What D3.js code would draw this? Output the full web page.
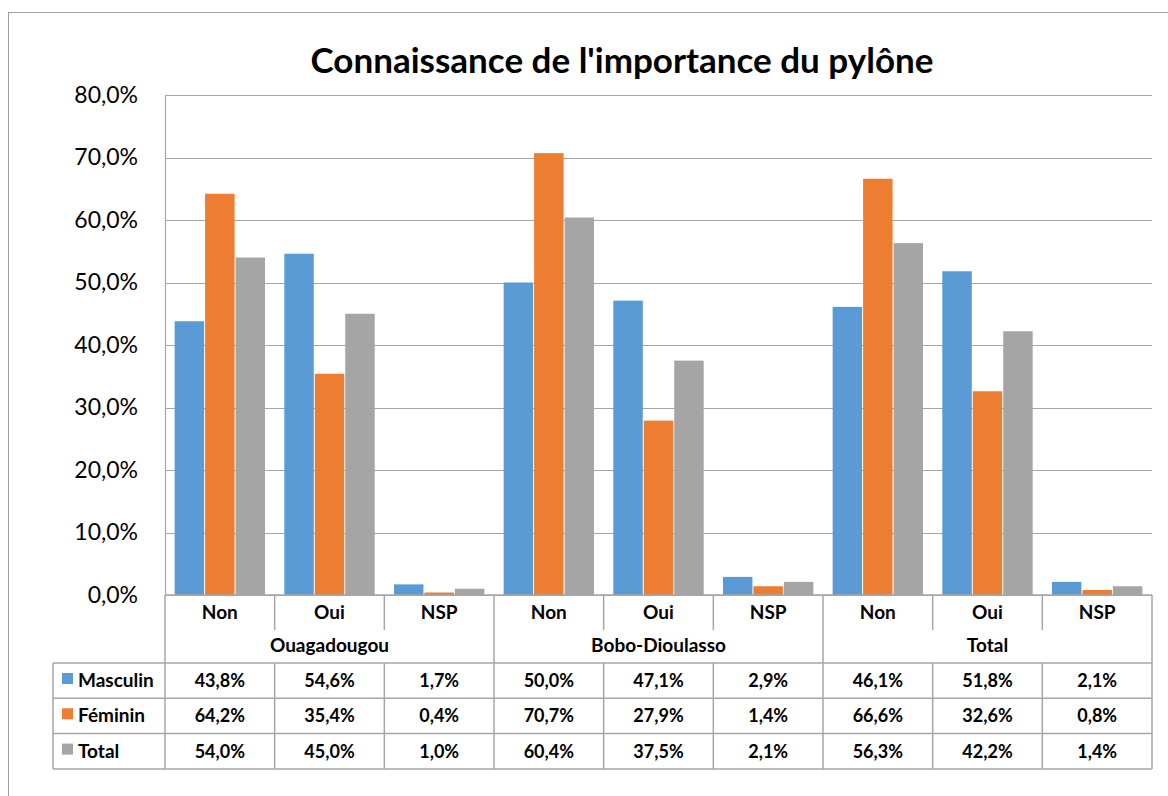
<!DOCTYPE html>
<html>
<head>
<meta charset="utf-8">
<script src="https://cdn.jsdelivr.net/npm/d3@7"></script>
<style>
  body { margin: 0; background: #fff; }
  svg text { font-family: Lato, "Open Sans", sans-serif; fill: #000; }
</style>
</head>
<body>
<svg id="chart" width="1168" height="796"></svg>
<script>
// Data
const groups = ['Ouagadougou', 'Bobo-Dioulasso', 'Total'];
const answers = ['Non', 'Oui', 'NSP'];
const seriesNames = ['Masculin', 'Féminin', 'Total'];
const masculin = [43.8, 54.6, 1.7, 50.0, 47.1, 2.9, 46.1, 51.8, 2.1];
const feminin  = [64.2, 35.4, 0.4, 70.7, 27.9, 1.4, 66.6, 32.6, 0.8];
const total    = [54.0, 45.0, 1.0, 60.4, 37.5, 2.1, 56.3, 42.2, 1.4];
const yTicks = [0, 10, 20, 30, 40, 50, 60, 70, 80];
const colours = ['#5B9BD5', '#ED7D31', '#A5A5A5'];

const seriesValues = [masculin, feminin, total];
const columns = [];
groups.forEach((g, gi) => answers.forEach((a, ai) => columns.push({key: gi + '-' + a, group: g, answer: a, i: gi * answers.length + ai})));

const svg = d3.select('#chart');
const lineCol = '#a6a6a6';

// outer chart frame
svg.append('rect')
  .attr('x', 8.5).attr('y', 12.5)
  .attr('width', 1180).attr('height', 800)
  .attr('fill', 'none').attr('stroke', '#a0a0a0');

// title
svg.append('text')
  .attr('x', 622).attr('y', 73)
  .attr('text-anchor', 'middle')
  .attr('font-size', 35).attr('font-weight', 'bold')
  .text("Connaissance de l'importance du pylône");

const plot = {left: 165, right: 1152, top: 95, bottom: 595};

const x = d3.scaleBand()
  .domain(columns.map(d => d.key))
  .range([plot.left, plot.right]);

const xSub = d3.scaleBand()
  .domain(seriesNames)
  .range([0, x.bandwidth()])
  .paddingInner(0)
  .paddingOuter(0.3);

const y = d3.scaleLinear()
  .domain([0, 80])
  .range([plot.bottom, plot.top]);

const fmt = v => v.toFixed(1).replace('.', ',') + '%';

// gridlines
svg.append('g').selectAll('line').data(yTicks).join('line')
  .attr('x1', plot.left).attr('x2', plot.right)
  .attr('y1', d => Math.round(y(d)) + 0.5).attr('y2', d => Math.round(y(d)) + 0.5)
  .attr('stroke', lineCol).attr('stroke-width', 1.2);

// y axis
const yAxisG = svg.append('g')
  .attr('transform', `translate(${plot.left},0)`)
  .call(d3.axisLeft(y).tickValues(yTicks).tickFormat(fmt).tickSize(0).tickPadding(27));
yAxisG.select('.domain').attr('stroke', lineCol).attr('stroke-width', 1.2);
yAxisG.selectAll('text').attr('font-size', 23).attr('font-family', 'Lato, sans-serif').attr('fill', '#000');

// bars
const colG = svg.append('g').selectAll('g').data(columns).join('g')
  .attr('transform', d => `translate(${x(d.key)},0)`);
colG.selectAll('rect').data(d => seriesNames.map((s, si) => ({s, si, v: seriesValues[si][d.i]}))).join('rect')
  .attr('x', d => xSub(d.s) + 0.5)
  .attr('width', xSub.bandwidth() - 1)
  .attr('y', d => y(d.v))
  .attr('height', d => y(0) - y(d.v))
  .attr('fill', d => colours[d.si]);

// data table
const rowAxis = {top: 595, tickBottom: 630, mid: 646, bottom: 663};
const rowH = 35.3;
const tableLeft = 53;
const tableG = svg.append('g');
const hline = (x1, x2, yy) => tableG.append('line')
  .attr('x1', x1).attr('x2', x2).attr('y1', yy).attr('y2', yy)
  .attr('stroke', lineCol).attr('stroke-width', 1.5);
const vline = (xx, y1, y2) => tableG.append('line')
  .attr('x1', xx).attr('x2', xx).attr('y1', y1).attr('y2', y2)
  .attr('stroke', lineCol).attr('stroke-width', 1.5);

const tableBottom = rowAxis.bottom + rowH * seriesNames.length;
hline(plot.left, plot.right, rowAxis.top);
hline(tableLeft, plot.right, rowAxis.bottom);
seriesNames.forEach((s, si) => hline(tableLeft, plot.right, rowAxis.bottom + rowH * (si + 1)));
vline(tableLeft, rowAxis.bottom, tableBottom);

columns.forEach((c, ci) => {
  const xx = x(c.key);
  const groupStart = ci % answers.length === 0;
  vline(xx, groupStart ? rowAxis.top : rowAxis.bottom, tableBottom);
  if (!groupStart) vline(xx, rowAxis.top, rowAxis.tickBottom);
});
vline(plot.right, rowAxis.top, tableBottom);

// answer labels
tableG.selectAll('text.answer').data(columns).join('text')
  .attr('class', 'answer')
  .attr('x', d => x(d.key) + x.bandwidth() / 2)
  .attr('y', 619)
  .attr('text-anchor', 'middle')
  .attr('font-size', 19).attr('font-weight', 'bold')
  .text(d => d.answer);

// group labels
tableG.selectAll('text.group').data(groups).join('text')
  .attr('class', 'group')
  .attr('x', (d, gi) => x(columns[gi * answers.length].key) + x.bandwidth() * answers.length / 2)
  .attr('y', 652)
  .attr('text-anchor', 'middle')
  .attr('font-size', 19).attr('font-weight', 'bold')
  .text(d => d);

// rows: legend key + values
seriesNames.forEach((s, si) => {
  const top = rowAxis.bottom + rowH * si;
  tableG.append('rect')
    .attr('x', 62).attr('y', top + 10)
    .attr('width', 11).attr('height', 11)
    .attr('fill', colours[si]);
  tableG.append('text')
    .attr('x', 78).attr('y', top + 24)
    .attr('font-size', 19).attr('font-weight', 'bold')
    .text(s);
  tableG.selectAll('text.v' + si).data(columns).join('text')
    .attr('class', 'v' + si)
    .attr('x', d => x(d.key) + x.bandwidth() / 2)
    .attr('y', top + 24)
    .attr('text-anchor', 'middle')
    .attr('font-size', 18).attr('font-weight', 'bold')
    .text(d => fmt(seriesValues[si][d.i]));
});
</script>
</body>
</html>
